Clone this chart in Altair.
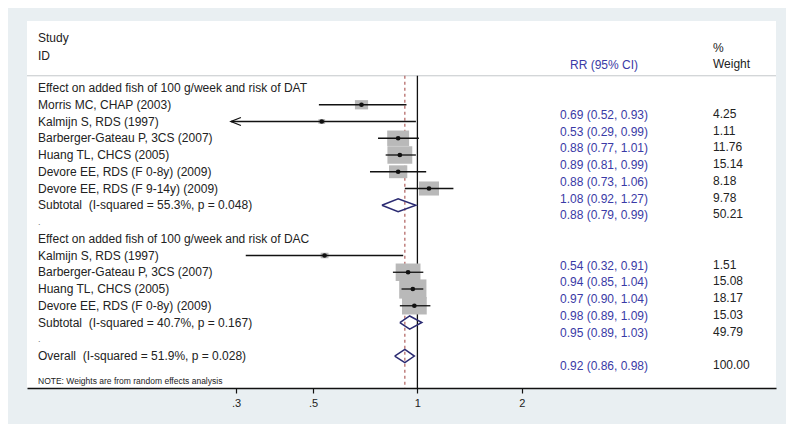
import altair as alt
import pandas as pd

# ---------------- data ----------------
study_labels = [
    "Morris MC, CHAP (2003)",
    "Kalmijn S, RDS (1997)",
    "Barberger-Gateau P, 3CS (2007)",
    "Huang TL, CHCS (2005)",
    "Devore EE, RDS (F 0-8y) (2009)",
    "Devore EE, RDS (F 9-14y) (2009)",
    "Kalmijn S, RDS (1997)",
    "Barberger-Gateau P, 3CS (2007)",
    "Huang TL, CHCS (2005)",
    "Devore EE, RDS (F 0-8y) (2009)",
]
study_rows = [1, 2, 3, 4, 5, 6, 10, 11, 12, 13]
study_rr = [0.69, 0.53, 0.88, 0.89, 0.88, 1.08, 0.54, 0.94, 0.97, 0.98]
study_lo = [0.52, 0.29, 0.77, 0.81, 0.73, 0.92, 0.32, 0.85, 0.90, 0.89]
study_hi = [0.93, 0.99, 1.01, 0.99, 1.06, 1.27, 0.91, 1.04, 1.04, 1.09]
study_weight = [4.25, 1.11, 11.76, 15.14, 8.18, 9.78, 1.51, 15.08, 18.17, 15.03]

pooled_labels = [
    "Subtotal\u00a0\u00a0(I-squared = 55.3%, p = 0.048)",
    "Subtotal\u00a0\u00a0(I-squared = 40.7%, p = 0.167)",
    "Overall\u00a0\u00a0(I-squared = 51.9%, p = 0.028)",
]
pooled_rows = [7, 14, 16]
pooled_rr = [0.88, 0.95, 0.92]
pooled_lo = [0.79, 0.89, 0.86]
pooled_hi = [0.99, 1.03, 0.98]
pooled_weight = [50.21, 49.79, 100.00]

group_labels = [
    "Effect on added fish of 100 g/week and risk of DAT",
    "Effect on added fish of 100 g/week and risk of DAC",
]
group_rows = [0, 9]
spacer_rows = [8, 15]

note_text = "NOTE: Weights are from random effects analysis"

tick_values = [0.3, 0.5, 1, 2]
tick_labels = [".3", ".5", "1", "2"]
axis_min_label = 0.3

# ---------------- styling ----------------
FONT = "Liberation Sans"
BG = "#e9eff2"
RR_COLOR = "#3a3aa6"
TXT = "#222222"
NAVY = "#2b2b72"

X_DOMAIN = [0.0749, 10.81]
Y_DOMAIN = [-4.0, 17.91]
TOP_ROW = -0.73
W, H = 749, 367

label_expr = " : ".join(
    [f"datum.value == {v} ? '{l}'" for v, l in zip(tick_values, tick_labels)]
) + " : datum.label"

xscale = alt.Scale(type="log", domain=X_DOMAIN, nice=False)
yscale = alt.Scale(domain=Y_DOMAIN, reverse=True, nice=False, zero=False)
xaxis = alt.Axis(
    values=tick_values, labelExpr=label_expr, title=None, grid=False,
    domainColor="#111111", domainWidth=1.4, tickColor="#111111", tickWidth=1.2,
    tickSize=5, labelFontSize=11, labelFont=FONT, labelColor="#222222",
    labelPadding=4,
)


def X(field, **kw):
    return alt.X(field, scale=xscale, axis=xaxis, **kw)


def Y(field):
    return alt.Y(field, scale=yscale, axis=None)


studies = pd.DataFrame({
    "label": study_labels, "row": study_rows, "rr": study_rr,
    "lo": study_lo, "hi": study_hi, "weight": study_weight,
})
studies["rrtext"] = [f"{r:.2f} ({l:.2f}, {h:.2f})" for r, l, h in zip(study_rr, study_lo, study_hi)]
studies["wtext"] = [f"{w:.2f}" for w in study_weight]

pooled = pd.DataFrame({
    "label": pooled_labels, "row": pooled_rows, "rr": pooled_rr,
    "lo": pooled_lo, "hi": pooled_hi, "weight": pooled_weight,
})
pooled["rrtext"] = [f"{r:.2f} ({l:.2f}, {h:.2f})" for r, l, h in zip(pooled_rr, pooled_lo, pooled_hi)]
pooled["wtext"] = [f"{w:.2f}" for w in pooled_weight]

# diamond outline vertices from pooled estimates
dia_half = 0.39
verts = []
for i, (r, est, l, h) in enumerate(zip(pooled_rows, pooled_rr, pooled_lo, pooled_hi)):
    pts = [(l, r), (est, r - dia_half), (h, r), (est, r + dia_half), (l, r)]
    for k, (xv, yv) in enumerate(pts):
        verts.append({"g": i, "o": k, "x": xv, "row": yv})
diamonds = pd.DataFrame(verts)

left_text = pd.DataFrame({
    "label": group_labels + study_labels + pooled_labels,
    "row": group_rows + study_rows + pooled_rows,
})
spacers = pd.DataFrame({"label": ["."] * len(spacer_rows), "row": spacer_rows})

base_s = alt.Chart(studies)
base_p = alt.Chart(pooled)

# reference lines
sep = alt.Chart(pd.DataFrame({"row": [TOP_ROW]})).mark_rule(color="#c4c8ca", strokeWidth=1).encode(y=Y("row:Q"))
null_line = alt.Chart(pd.DataFrame({"x": [1.0], "y1": [TOP_ROW], "y2": [Y_DOMAIN[1]]})).mark_rule(
    color="#111111", strokeWidth=1.3
).encode(x=X("x:Q"), y=Y("y1:Q"), y2="y2:Q")
overall_line = alt.Chart(pd.DataFrame({"x": [pooled_rr[-1]], "y1": [TOP_ROW], "y2": [Y_DOMAIN[1]]})).mark_rule(
    color="#b0605e", strokeWidth=1.2, strokeDash=[3, 3]
).encode(x=X("x:Q"), y=Y("y1:Q"), y2="y2:Q")

boxes = base_s.mark_point(
    shape="M-1.42,-1L1.42,-1L1.42,1L-1.42,1Z", filled=True, color="#b9b9b9", opacity=1
).encode(
    x=X("rr:Q"), y=Y("row:Q"),
    size=alt.Size("weight:Q", scale=alt.Scale(domain=[0, 100], range=[0, 2025]), legend=None),
)
ci = base_s.mark_rule(color="#111111", strokeWidth=1.3).encode(x=X("lo:Q"), x2="hi:Q", y=Y("row:Q"))
dots = base_s.mark_point(filled=True, color="#111111", size=22, opacity=1).encode(x=X("rr:Q"), y=Y("row:Q"))
arrows = base_s.transform_filter(f"datum.lo < {axis_min_label}").mark_point(
    shape="M2.5,-1L0,0L2.5,1", filled=False, color="#111111", strokeWidth=1.3, size=64, opacity=1
).encode(x=X("lo:Q"), y=Y("row:Q"))
dia = alt.Chart(diamonds).mark_line(color=NAVY, strokeWidth=1.5).encode(
    x=X("x:Q"), y=Y("row:Q"), detail="g:N", order="o:Q"
)

# text columns
LABEL_X, RR_X, W_X = 11, 577, 686
labels = alt.Chart(left_text).mark_text(
    align="left", baseline="middle", font=FONT, fontSize=12, color=TXT
).encode(x=alt.value(LABEL_X), y=Y("row:Q"), text="label:N")
spacer_txt = alt.Chart(spacers).mark_text(
    align="left", baseline="middle", font=FONT, fontSize=9, color="#777777"
).encode(x=alt.value(LABEL_X), y=Y("row:Q"), text="label:N")

rr_s = base_s.mark_text(align="center", baseline="middle", font=FONT, fontSize=12, color=RR_COLOR, dy=10).encode(
    x=alt.value(RR_X), y=Y("row:Q"), text="rrtext:N")
rr_p = base_p.mark_text(align="center", baseline="middle", font=FONT, fontSize=12, color=RR_COLOR, dy=10).encode(
    x=alt.value(RR_X), y=Y("row:Q"), text="rrtext:N")
w_s = base_s.mark_text(align="left", baseline="middle", font=FONT, fontSize=12, color=TXT, dy=9).encode(
    x=alt.value(W_X), y=Y("row:Q"), text="wtext:N")
w_p = base_p.mark_text(align="left", baseline="middle", font=FONT, fontSize=12, color=TXT, dy=9).encode(
    x=alt.value(W_X), y=Y("row:Q"), text="wtext:N")

hdr_left = alt.Chart(pd.DataFrame({"t": ["Study", "ID"], "row": [-2.97, -1.93]})).mark_text(
    align="left", baseline="middle", font=FONT, fontSize=12, color=TXT
).encode(x=alt.value(LABEL_X), y=Y("row:Q"), text="t:N")
hdr_rr = alt.Chart(pd.DataFrame({"t": ["RR (95% CI)"], "row": [-1.37]})).mark_text(
    align="center", baseline="middle", font=FONT, fontSize=12, color=RR_COLOR
).encode(x=alt.value(RR_X), y=Y("row:Q"), text="t:N")
hdr_w = alt.Chart(pd.DataFrame({"t": ["%", "Weight"], "row": [-2.41, -1.43]})).mark_text(
    align="left", baseline="middle", font=FONT, fontSize=12, color=TXT
).encode(x=alt.value(W_X), y=Y("row:Q"), text="t:N")
note = alt.Chart(pd.DataFrame({"t": [note_text], "row": [17.49]})).mark_text(
    align="left", baseline="middle", font=FONT, fontSize=8.5, color=TXT
).encode(x=alt.value(LABEL_X), y=Y("row:Q"), text="t:N")

chart = alt.layer(
    sep, overall_line, null_line, boxes, ci, dots, arrows, dia,
    labels, spacer_txt, rr_s, rr_p, w_s, w_p, hdr_left, hdr_rr, hdr_w, note,
).properties(
    width=W, height=H,
    autosize=alt.AutoSizeParams(type="none"),
    padding={"left": 19, "top": 13, "right": 10, "bottom": 36},
    background=BG,
).configure_view(fill="white", stroke=None)

chart.save("out.html", embed_options={"renderer": "svg", "actions": False})
